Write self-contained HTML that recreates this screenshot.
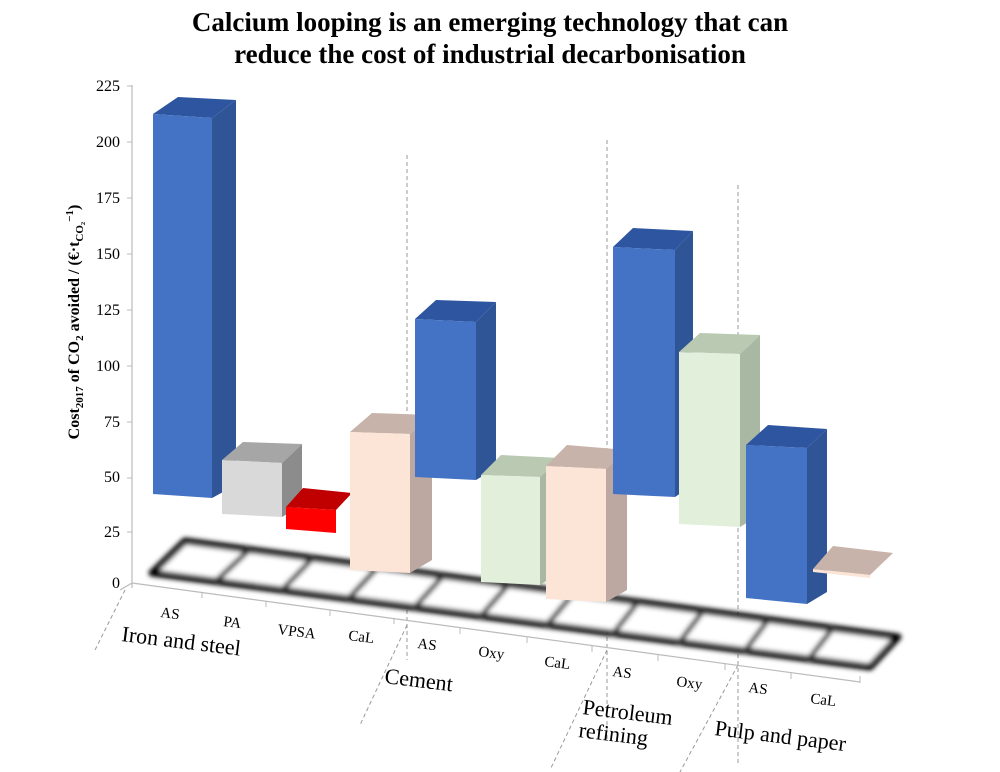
<!DOCTYPE html>
<html><head><meta charset="utf-8"><style>
html,body{margin:0;padding:0;background:#fff;}
svg{display:block;}
text{font-family:"Liberation Serif","Times New Roman",serif;}
</style></head><body>
<svg width="1000" height="772" viewBox="0 0 1000 772" xmlns="http://www.w3.org/2000/svg" font-family="Liberation Serif, serif">
<defs>
<filter id="bl" x="-5%" y="-20%" width="110%" height="140%"><feGaussianBlur stdDeviation="2.4"/></filter>
</defs>
<text x="490" y="31" font-size="27" font-weight="bold" text-anchor="middle">Calcium looping is an emerging technology that can</text>
<text x="490" y="63" font-size="27" font-weight="bold" text-anchor="middle">reduce the cost of industrial decarbonisation</text>

<!-- y axis -->
<line x1="132" y1="85" x2="132" y2="588" stroke="#bbb" stroke-width="1.2"/>
<g stroke="#bbb"><line x1="127" y1="86" x2="132" y2="86"/><line x1="127" y1="142" x2="132" y2="142"/><line x1="127" y1="198" x2="132" y2="198"/><line x1="127" y1="254" x2="132" y2="254"/><line x1="127" y1="310" x2="132" y2="310"/><line x1="127" y1="366" x2="132" y2="366"/><line x1="127" y1="422" x2="132" y2="422"/><line x1="127" y1="478" x2="132" y2="478"/><line x1="127" y1="532" x2="132" y2="532"/></g>
<g font-size="16" text-anchor="end">
<text x="120" y="91">225</text><text x="120" y="147">200</text><text x="120" y="203">175</text><text x="120" y="259">150</text><text x="120" y="315">125</text><text x="120" y="371">100</text><text x="120" y="427">75</text><text x="120" y="482">50</text><text x="120" y="537">25</text><text x="120" y="588">0</text>
</g>
<text font-size="16" font-weight="bold" transform="translate(79,322) rotate(-90)" text-anchor="middle">Cost<tspan font-size="11" dy="4">2017</tspan><tspan dy="-4"> of CO</tspan><tspan font-size="11" dy="4">2</tspan><tspan dy="-4"> avoided / (€·t</tspan><tspan font-size="11" dy="4">CO₂</tspan><tspan font-size="11" dy="-10">−1</tspan><tspan dy="6">)</tspan></text>

<!-- dashed separators -->
<g stroke="#999" stroke-width="1" stroke-dasharray="4,3" fill="none">
<line x1="407" y1="155" x2="407" y2="660"/>
<line x1="607" y1="140" x2="607" y2="740"/>
<line x1="738" y1="185" x2="738" y2="765"/>
<line x1="125" y1="590" x2="95" y2="650"/>
<line x1="407" y1="625" x2="360" y2="725"/>
<line x1="607" y1="650" x2="550" y2="770"/>
<line x1="738" y1="665" x2="680" y2="772"/>
</g>
<line x1="120" y1="590" x2="132" y2="583" stroke="#bbb" stroke-width="1.2"/>
<line x1="132" y1="583" x2="860" y2="682" stroke="#bbb" stroke-width="1.2"/>
<g stroke="#bbb"><line x1="202" y1="592" x2="202" y2="598"/><line x1="266" y1="601" x2="266" y2="607"/><line x1="330" y1="610" x2="330" y2="616"/><line x1="394" y1="618" x2="394" y2="624"/><line x1="460" y1="628" x2="460" y2="634"/><line x1="527" y1="637" x2="527" y2="643"/><line x1="592" y1="646" x2="592" y2="652"/><line x1="658" y1="655" x2="658" y2="661"/><line x1="725" y1="664" x2="725" y2="670"/><line x1="791" y1="673" x2="791" y2="679"/><line x1="860" y1="676" x2="860" y2="683"/></g>

<!-- film strip floor -->
<g filter="url(#bl)">
<polygon points="152,573 185,541 898,637 870,667" fill="#fff" stroke="#000" stroke-width="7" stroke-linejoin="round"/>
<g stroke="#333" stroke-width="5">
<line x1="216" y1="581" x2="249" y2="550"/>
<line x1="282" y1="590" x2="313" y2="558"/>
<line x1="348" y1="599" x2="378" y2="567"/>
<line x1="414" y1="608" x2="443" y2="576"/>
<line x1="480" y1="617" x2="508" y2="585"/>
<line x1="546" y1="626" x2="573" y2="594"/>
<line x1="612" y1="635" x2="638" y2="602"/>
<line x1="678" y1="644" x2="703" y2="611"/>
<line x1="744" y1="652" x2="768" y2="620"/>
<line x1="808" y1="660" x2="833" y2="628"/>
</g>
</g>

<!-- Iron AS -->
<polygon points="212,118 236,100 236,485 212,498" fill="#2f5597"/>
<polygon points="153,114 178,97 236,100 212,118" fill="#2e55a0"/>
<polygon points="153,114 212,118 212,498 153,494" fill="#4472c4"/>
<!-- PA -->
<polygon points="282,463 302,444 302,505 282,517" fill="#8c8c8c"/>
<polygon points="222,460 243,442 302,444 282,463" fill="#a6a6a6"/>
<polygon points="222,460 282,463 282,517 222,514" fill="#d9d9d9"/>
<!-- VPSA -->
<polygon points="286,507 303,488 352,493 336,510" fill="#c00000"/>
<polygon points="286,507 336,510 336,533 286,529" fill="#ff0000"/>
<!-- Iron CaL -->
<polygon points="410,434 432,415 432,560 410,573" fill="#bca8a0"/>
<polygon points="350,432 372,413 432,415 410,434" fill="#c8b3aa"/>
<polygon points="350,432 410,434 410,573 350,570" fill="#fce4d6"/>
<!-- Cement AS -->
<polygon points="476,322 496,302 496,468 476,480" fill="#2f5597"/>
<polygon points="415,319 436,300 496,302 476,322" fill="#2e55a0"/>
<polygon points="415,319 476,322 476,480 415,477" fill="#4472c4"/>
<!-- Cement Oxy -->
<polygon points="540,477 560,458 560,572 540,585" fill="#a9b8a3"/>
<polygon points="481,475 501,455 560,458 540,477" fill="#b9c9b2"/>
<polygon points="481,475 540,477 540,585 481,582" fill="#e2efda"/>
<!-- Cement CaL -->
<polygon points="606,469 627,450 627,590 606,602" fill="#bca8a0"/>
<polygon points="546,466 567,445 627,450 606,469" fill="#c8b3aa"/>
<polygon points="546,466 606,469 606,602 546,599" fill="#fce4d6"/>
<!-- Petroleum AS -->
<polygon points="675,250 693,231 693,485 675,497" fill="#2f5597"/>
<polygon points="613,247 633,228 693,231 675,250" fill="#2e55a0"/>
<polygon points="613,247 675,250 675,497 613,494" fill="#4472c4"/>
<!-- Petroleum Oxy -->
<polygon points="740,354 760,335 760,515 740,527" fill="#a9b8a3"/>
<polygon points="679,352 700,333 760,335 740,354" fill="#b9c9b2"/>
<polygon points="679,352 740,354 740,527 679,524" fill="#e2efda"/>
<!-- Pulp AS -->
<polygon points="807,448 827,429 827,592 807,604" fill="#2f5597"/>
<polygon points="746,445 768,425 827,429 807,448" fill="#2e55a0"/>
<polygon points="746,445 807,448 807,604 746,598" fill="#4472c4"/>
<!-- Pulp CaL -->
<polygon points="813,569 833,546 893,553 870,575" fill="#c8b3aa"/>
<polygon points="813,569 870,575 870,578 813,572" fill="#fce4d6"/>

<!-- category labels -->
<g font-size="15">
<text transform="translate(160,617) rotate(7)">AS</text>
<text transform="translate(223,626) rotate(7)">PA</text>
<text transform="translate(277,634) rotate(7)">VPSA</text>
<text transform="translate(348,640) rotate(7)">CaL</text>
<text transform="translate(417,648) rotate(7)">AS</text>
<text transform="translate(478,656) rotate(7)">Oxy</text>
<text transform="translate(544,666) rotate(7)">CaL</text>
<text transform="translate(612,676) rotate(7)">AS</text>
<text transform="translate(676,686) rotate(7)">Oxy</text>
<text transform="translate(748,692) rotate(7)">AS</text>
<text transform="translate(810,703) rotate(7)">CaL</text>
</g>
<g font-size="22">
<text transform="translate(121,641) rotate(7)">Iron and steel</text>
<text transform="translate(384,683) rotate(7)">Cement</text>
<text transform="translate(582,714) rotate(7)">Petroleum</text>
<text transform="translate(578,737) rotate(7)">refining</text>
<text transform="translate(714,735) rotate(7)">Pulp and paper</text>
</g>
</svg>
</body></html>
